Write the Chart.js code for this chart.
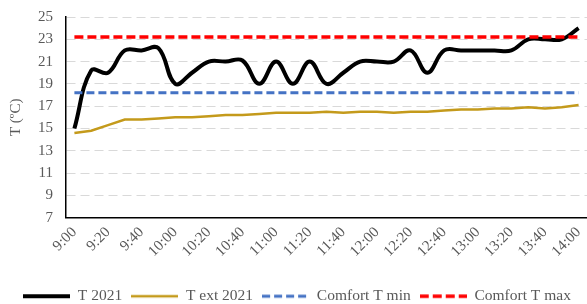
<!DOCTYPE html>
<html>
<head>
<meta charset="utf-8">
<script src="https://cdn.jsdelivr.net/npm/chart.js@4/dist/chart.umd.min.js"></script>
<style>
  html, body { margin: 0; padding: 0; background: #fff; }
  #wrap { width: 587px; height: 304px; }
</style>
</head>
<body>
<div id="wrap"><canvas id="myChart"></canvas></div>
<script>
// time of day, every 10 minutes
const times = [
    '9:00', '9:10', '9:20', '9:30', '9:40', '9:50',
    '10:00', '10:10', '10:20', '10:30', '10:40', '10:50',
    '11:00', '11:10', '11:20', '11:30', '11:40', '11:50',
    '12:00', '12:10', '12:20', '12:30', '12:40', '12:50',
    '13:00', '13:10', '13:20', '13:30', '13:40', '13:50',
    '14:00'
];

const tIn2021 = [15, 20.2, 20, 22, 22, 22.2, 19, 20, 21, 21, 21.1, 19, 21, 19, 21, 19,
    20, 21, 21, 21, 22, 20, 22, 22, 22, 22, 22, 23, 23, 23, 24];

const tExt2021 = [14.6, 14.8, 15.3, 15.8, 15.8, 15.9, 16, 16, 16.1, 16.2, 16.2, 16.3, 16.4,
    16.4, 16.4, 16.5, 16.4, 16.5, 16.5, 16.4, 16.5, 16.5, 16.6, 16.7, 16.7, 16.8, 16.8,
    16.9, 16.8, 16.9, 17.1];

const comfortMin = 18.2;
const comfortMax = 23.2;

const yTicks = [7, 9, 11, 13, 15, 17, 19, 21, 23, 25];

const serif = 'Liberation Serif';
const grey = '#595959';

// little canvases used as legend swatches (so the dashes show)
function swatch(color, width, dash) {
    const c = document.createElement('canvas');
    c.width = 47;
    c.height = 6;
    const ctx = c.getContext('2d');
    ctx.strokeStyle = color;
    ctx.lineWidth = width;
    ctx.setLineDash(dash);
    ctx.beginPath();
    ctx.moveTo(0, 3);
    ctx.lineTo(47, 3);
    ctx.stroke();
    return c;
}

const data = {
    labels: times,
    datasets: [{
        label: 'T 2021',
        data: tIn2021,
        borderColor: '#000000',
        backgroundColor: '#000000',
        borderWidth: 4,
        tension: 0.4,
        pointStyle: swatch('#000000', 4, []),
        order: 3
    }, {
        label: 'T ext 2021',
        data: tExt2021,
        borderColor: '#C49A1B',
        backgroundColor: '#C49A1B',
        borderWidth: 2.5,
        tension: 0,
        pointStyle: swatch('#C49A1B', 2.5, []),
        order: 2
    }, {
        label: 'Comfort T min',
        data: times.map(() => comfortMin),
        borderColor: '#4472C4',
        backgroundColor: '#4472C4',
        borderWidth: 3,
        borderDash: [8, 4],
        pointStyle: swatch('#4472C4', 3, [8, 4]),
        order: 1
    }, {
        label: 'Comfort T max',
        data: times.map(() => comfortMax),
        borderColor: '#FF0000',
        backgroundColor: '#FF0000',
        borderWidth: 3.5,
        borderDash: [9, 4],
        pointStyle: swatch('#FF0000', 3.5, [9, 4]),
        order: 0
    }]
};

const config = {
    type: 'line',
    data: data,
    options: {
        responsive: true,
        maintainAspectRatio: false,
        animation: false,
        elements: {
            point: { radius: 0, hoverRadius: 0 },
            line: { fill: false, borderCapStyle: 'butt' }
        },
        layout: {
            padding: { left: 7, right: 0, top: 17, bottom: -10 }
        },
        scales: {
            x: {
                offset: true,
                grid: { color: 'rgba(0,0,0,0)', drawTicks: false },
                border: { display: true, color: '#000000', width: 1.5 },
                afterFit: function (scale) {
                    scale.paddingRight = 0;
                    scale.height += 13;
                },
                ticks: {
                    autoSkip: false,
                    minRotation: 45,
                    maxRotation: 45,
                    padding: 6,
                    color: grey,
                    font: { family: serif, size: 15 },
                    callback: function (value, index) {
                        return index % 2 === 0 ? times[index] : '';
                    }
                }
            },
            y: {
                min: 7,
                max: 25,
                afterBuildTicks: function (axis) {
                    axis.ticks = yTicks.map(v => ({ value: v }));
                },
                afterFit: function (scale) {
                    scale.paddingTop = 0;
                },
                grid: {
                    color: '#D9D9D9',
                    lineWidth: 1,
                    drawTicks: false
                },
                border: { display: true, color: '#000000', width: 1.5, dash: [9, 5] },
                ticks: {
                    padding: 13,
                    color: grey,
                    font: { family: serif, size: 15 }
                },
                title: {
                    display: true,
                    text: 'T (ºC)',
                    color: grey,
                    padding: { top: 0, bottom: 0 },
                    font: { family: serif, size: 15 }
                }
            }
        },
        plugins: {
            legend: {
                display: true,
                position: 'bottom',
                labels: {
                    usePointStyle: true,
                    pointStyleWidth: 47,
                    padding: 9,
                    color: grey,
                    font: { family: serif, size: 15.5 },
                    sort: (a, b) => a.datasetIndex - b.datasetIndex
                }
            },
            tooltip: { enabled: false }
        }
    }
};

const chart = new Chart(
    document.getElementById('myChart'),
    config
);
</script>
</body>
</html>
